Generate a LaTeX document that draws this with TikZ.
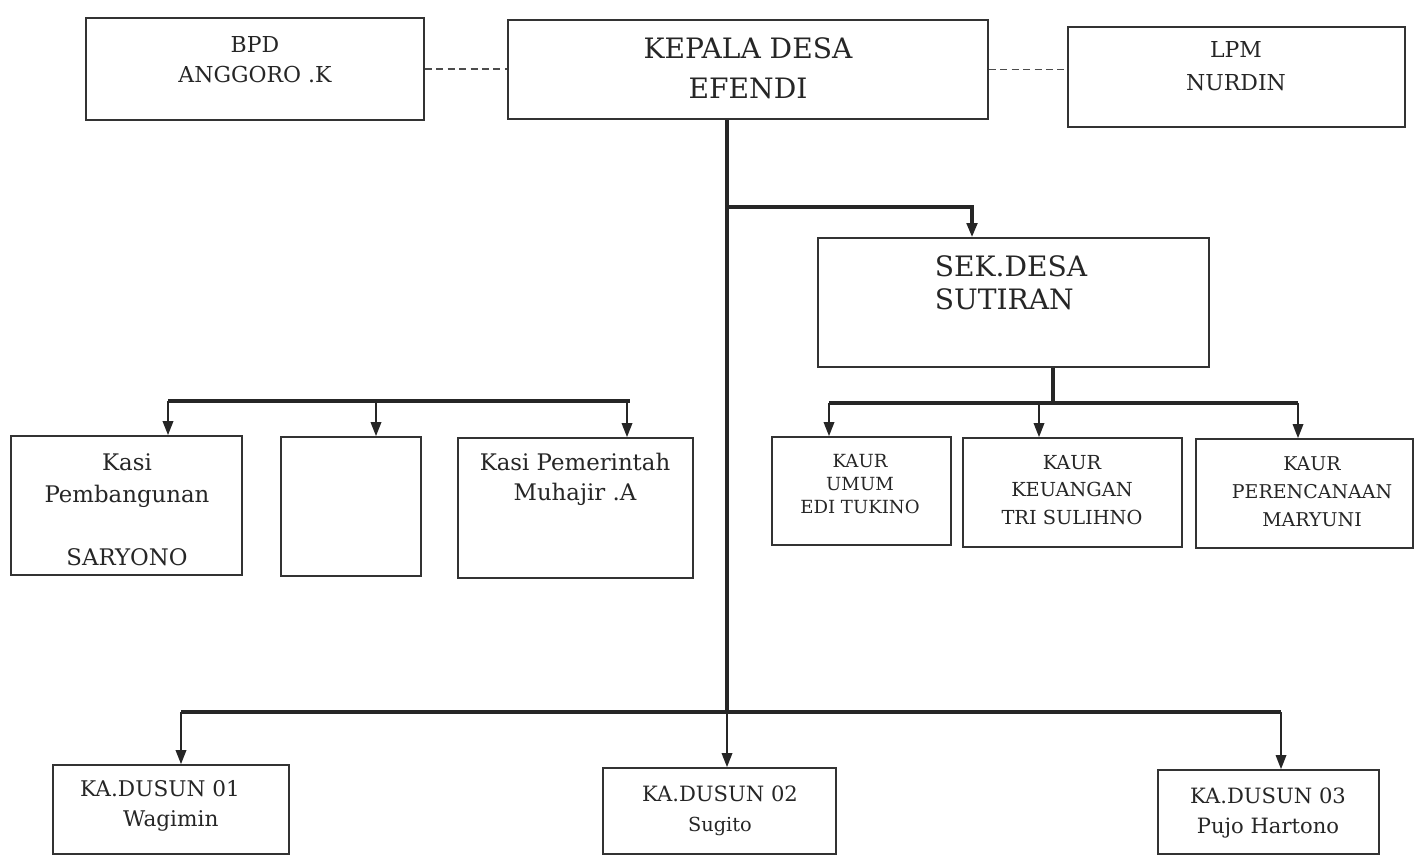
\documentclass[tikz,border=0pt]{standalone}
\usepackage{fontspec}
\setmainfont{DejaVu Serif}
\usepackage{xcolor}
\usepackage{tikz}
\usetikzlibrary{arrows.meta}
\usetikzlibrary{fit, positioning}

\begin{document}
\begin{tikzpicture}[
      x=0.02cm, y=-0.02cm,
      >={Triangle[length=8pt, width=6pt]},
      box/.style={draw=black!80, line width=1pt, inner sep=0pt, fit={#1}},
      txt/.style={align=center, text=black!85, inner sep=0pt},
      bar/.style={draw=black!85, line width=1.8pt},
      drop/.style={draw=black!85, line width=1pt, ->},
      dash_line/.style={draw=black!70, line width=0.9pt, dash pattern=on 4pt off 2.5pt}
    ]
    \useasboundingbox (0,0) rectangle (1415,856);

    % Kotak baris atas
    \node[box={(86,18) (424,120)}] (bpd) {};
    \node[box={(508,20) (988,119)}] (kades) {};
    \node[box={(1068,27) (1405,127)}] (lpm) {};
    \node[box={(818,238) (1209,367)}] (sekdes) {};

    % Kotak kasi dan kaur
    \node[box={(11,436) (242,575)}] (kasibang) {};
    \node[box={(281,437) (421,576)}] (kasikosong) {};
    \node[box={(458,438) (693,578)}] (kasipem) {};
    \node[box={(772,437) (951,545)}] (kaurumum) {};
    \node[box={(963,438) (1182,547)}] (kaurkeu) {};
    \node[box={(1196,439) (1413,548)}] (kaurren) {};

    % Kotak kepala dusun
    \node[box={(53,765) (289,854)}] (dusun1) {};
    \node[box={(603,768) (836,854)}] (dusun2) {};
    \node[box={(1158,770) (1379,854)}] (dusun3) {};

    % Teks
    \node[txt, font=\fontsize{12.5}{17}\selectfont] (bpdtxt) at (255,60) {BPD\\ANGGORO .K};
    \node[txt, font=\fontsize{16}{22.7}\selectfont] (kadestxt) at (748,68) {KEPALA DESA\\EFENDI};
    \node[txt, font=\fontsize{12.5}{18.7}\selectfont] (lpmtxt) at (1236,66) {LPM\\NURDIN};
    \node[txt, align=left, font=\fontsize{16}{18.7}\selectfont] (sektxt) at (1011,283) {SEK.DESA\\SUTIRAN};
    \node[txt, font=\fontsize{13}{18}\selectfont] (kasibangtxt) at (127,510) {Kasi\\Pembangunan\\[18pt]SARYONO};
    \node[txt, font=\fontsize{13}{17}\selectfont] (kasipemtxt) at (575,479) {Kasi Pemerintah\\Muhajir .A};
    \node[txt, font=\fontsize{10.3}{13.3}\selectfont] (kaurumumtxt) at (860,484) {KAUR\\UMUM\\EDI TUKINO};
    \node[txt, font=\fontsize{11}{15.6}\selectfont] (kaurkeutxt) at (1072,490) {KAUR\\KEUANGAN\\TRI SULIHNO};
    \node[txt, font=\fontsize{10.8}{16}\selectfont] (kaurrentxt) at (1312,492) {KAUR\\PERENCANAAN\\MARYUNI};
    \node[txt, font=\fontsize{12.3}{17}\selectfont] (dusun1txt) at (160,806) {KA.DUSUN 01\\\hspace*{1em}Wagimin};
    \node[txt, font=\fontsize{12}{17}\selectfont] (dusun2txt) at (720,811) {KA.DUSUN 02\\{\fontsize{11}{17}\selectfont Sugito}};
    \node[txt, font=\fontsize{12}{17}\selectfont] (dusun3txt) at (1268,813) {KA.DUSUN 03\\Pujo Hartono};

    % Garis koordinasi
    \draw[dash_line] (bpd.east) -- (bpd.east -| kades.west);
    \draw[dash_line] (kades.east) -- (kades.east -| lpm.west);

    % Garis komando utama
    \coordinate (cabSek) at (727,207);
    \coordinate (cabDusun) at (727,712);
    \coordinate (sekIn) at (972,0);
    \draw[bar] (kades.south -| cabSek) -- (cabDusun);
    \draw[bar, ->] (cabSek) -| (sekdes.north -| sekIn);

    % Cabang kasi
    \coordinate (kasiL) at (168,401);
    \coordinate (kasiM) at (376,401);
    \coordinate (kasiR) at (627,401);
    \draw[bar] (kasiL) -- ([xshift=3*0.02cm]kasiR);
    \foreach \c/\b in {kasiL/kasibang, kasiM/kasikosong, kasiR/kasipem}
      \draw[drop] (\c) -- (\c |- \b.north);

    % Cabang kaur
    \coordinate (sekOut) at (1053,0);
    \coordinate (kaurL) at (829,403);
    \coordinate (kaurM) at (1039,403);
    \coordinate (kaurR) at (1298,403);
    \draw[bar] (sekdes.south -| sekOut) -- (sekOut |- kaurL);
    \draw[bar] (kaurL) -- (kaurR);
    \foreach \c/\b in {kaurL/kaurumum, kaurM/kaurkeu, kaurR/kaurren}
      \draw[drop] (\c) -- (\c |- \b.north);

    % Cabang dusun
    \coordinate (dusunL) at (181,712);
    \coordinate (dusunR) at (1281,712);
    \draw[bar] (dusunL) -- (dusunR);
    \foreach \c/\b in {dusunL/dusun1, cabDusun/dusun2, dusunR/dusun3}
      \draw[drop] (\c) -- (\c |- \b.north);
  \end{tikzpicture}
\end{document}
